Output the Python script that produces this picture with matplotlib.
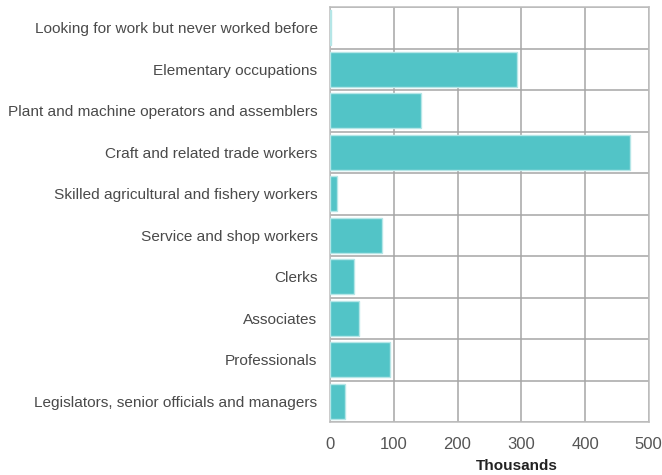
import numpy as np
import matplotlib.pyplot as plt

categories = [
    "Looking for work but never worked before",
    "Elementary occupations",
    "Plant and machine operators and assemblers",
    "Craft and related trade workers",
    "Skilled agricultural and fishery workers",
    "Service and shop workers",
    "Clerks",
    "Associates",
    "Professionals",
    "Legislators, senior officials and managers",
]
values = [2, 293, 142, 471, 11, 81, 38, 45, 94, 23]
xticks = [0, 100, 200, 300, 400, 500]

plt.rcParams['font.family'] = ['Liberation Sans', 'DejaVu Sans']

fig = plt.figure(figsize=(6.62, 4.75), dpi=100)
ax = fig.add_axes([0.4985, 0.1116, 0.4815, 0.8734])

y = np.arange(len(categories))
ax.barh(y, values, height=0.84, color='#52c4c7', edgecolor='#b5e6e7',
        linewidth=1, zorder=3)

ax.set_ylim(len(categories) - 0.5, -0.5)
ax.set_xlim(0, 500)
ax.set_xticks(xticks)
ax.set_yticks(y)
ax.set_yticklabels(categories)

# horizontal grid at category boundaries
ax.set_yticks(np.arange(-0.5, len(categories), 1), minor=True)
ax.grid(which='minor', axis='y', color='#a6a6a6', linewidth=1.1, zorder=1)
ax.grid(which='major', axis='x', color='#a6a6a6', linewidth=1.1, zorder=1)

for s in ax.spines.values():
    s.set_color('#bdbdbd')
    s.set_linewidth(1.1)

ax.tick_params(axis='both', which='both', length=0, colors='#4a4a4a',
               labelsize=11.1)
ax.tick_params(axis='x', pad=11)
ax.tick_params(axis='y', pad=9)
for lab in ax.get_xticklabels():
    lab.set_fontsize(12)
    lab.set_color('#555555')

fig.text(517 / 662, 1 - 466 / 475, "Thousands", ha='center', va='center',
         fontsize=11, fontweight='bold', color='#222222')

fig.savefig("out.png", dpi=100)
